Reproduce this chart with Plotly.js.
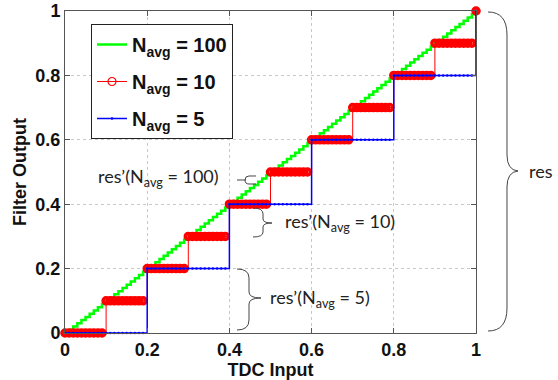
<!DOCTYPE html>
<html>
<head>
<meta charset="utf-8">
<script src="https://cdn.plot.ly/plotly-3.0.1.min.js"></script>
<style>html,body{margin:0;padding:0;background:#fff;}#chart{width:558px;height:380px;}</style>
</head>
<body>
<div id="chart"></div>
<script>
// TDC input samples
const tdcInput = [0,0.01,0.02,0.03,0.04,0.05,0.06,0.07,0.08,0.09,
0.1,0.11,0.12,0.13,0.14,0.15,0.16,0.17,0.18,0.19,
0.2,0.21,0.22,0.23,0.24,0.25,0.26,0.27,0.28,0.29,
0.3,0.31,0.32,0.33,0.34,0.35,0.36,0.37,0.38,0.39,
0.4,0.41,0.42,0.43,0.44,0.45,0.46,0.47,0.48,0.49,
0.5,0.51,0.52,0.53,0.54,0.55,0.56,0.57,0.58,0.59,
0.6,0.61,0.62,0.63,0.64,0.65,0.66,0.67,0.68,0.69,
0.7,0.71,0.72,0.73,0.74,0.75,0.76,0.77,0.78,0.79,
0.8,0.81,0.82,0.83,0.84,0.85,0.86,0.87,0.88,0.89,
0.9,0.91,0.92,0.93,0.94,0.95,0.96,0.97,0.98,0.99,1];

// Filter output, N_avg = 100
const out100 = [0,0.01,0.02,0.03,0.04,0.05,0.06,0.07,0.08,0.09,
0.1,0.11,0.12,0.13,0.14,0.15,0.16,0.17,0.18,0.19,
0.2,0.21,0.22,0.23,0.24,0.25,0.26,0.27,0.28,0.29,
0.3,0.31,0.32,0.33,0.34,0.35,0.36,0.37,0.38,0.39,
0.4,0.41,0.42,0.43,0.44,0.45,0.46,0.47,0.48,0.49,
0.5,0.51,0.52,0.53,0.54,0.55,0.56,0.57,0.58,0.59,
0.6,0.61,0.62,0.63,0.64,0.65,0.66,0.67,0.68,0.69,
0.7,0.71,0.72,0.73,0.74,0.75,0.76,0.77,0.78,0.79,
0.8,0.81,0.82,0.83,0.84,0.85,0.86,0.87,0.88,0.89,
0.9,0.91,0.92,0.93,0.94,0.95,0.96,0.97,0.98,0.99,1];

// Filter output, N_avg = 10
const out10 = [0,0,0,0,0,0,0,0,0,0,
0.1,0.1,0.1,0.1,0.1,0.1,0.1,0.1,0.1,0.1,
0.2,0.2,0.2,0.2,0.2,0.2,0.2,0.2,0.2,0.2,
0.3,0.3,0.3,0.3,0.3,0.3,0.3,0.3,0.3,0.3,
0.4,0.4,0.4,0.4,0.4,0.4,0.4,0.4,0.4,0.4,
0.5,0.5,0.5,0.5,0.5,0.5,0.5,0.5,0.5,0.5,
0.6,0.6,0.6,0.6,0.6,0.6,0.6,0.6,0.6,0.6,
0.7,0.7,0.7,0.7,0.7,0.7,0.7,0.7,0.7,0.7,
0.8,0.8,0.8,0.8,0.8,0.8,0.8,0.8,0.8,0.8,
0.9,0.9,0.9,0.9,0.9,0.9,0.9,0.9,0.9,0.9,1];

// Filter output, N_avg = 5
const out5 = [0,0,0,0,0,0,0,0,0,0,0,0,0,0,0,0,0,0,0,0,
0.2,0.2,0.2,0.2,0.2,0.2,0.2,0.2,0.2,0.2,0.2,0.2,0.2,0.2,0.2,0.2,0.2,0.2,0.2,0.2,
0.4,0.4,0.4,0.4,0.4,0.4,0.4,0.4,0.4,0.4,0.4,0.4,0.4,0.4,0.4,0.4,0.4,0.4,0.4,0.4,
0.6,0.6,0.6,0.6,0.6,0.6,0.6,0.6,0.6,0.6,0.6,0.6,0.6,0.6,0.6,0.6,0.6,0.6,0.6,0.6,
0.8,0.8,0.8,0.8,0.8,0.8,0.8,0.8,0.8,0.8,0.8,0.8,0.8,0.8,0.8,0.8,0.8,0.8,0.8,0.8,1];

const seriesNames = ['<b>N<sub>avg</sub> = 100</b>', '<b>N<sub>avg</sub> = 10</b>', '<b>N<sub>avg</sub> = 5</b>'];
const tickVals = [0, 0.2, 0.4, 0.6, 0.8, 1];
const tickText = ['0', '0.2', '0.4', '0.6', '0.8', '1'];

// pixel -> paper helpers (plot area 65..476 x, 11..333 y)
const L = 65, R = 476, T = 11, B = 333;
const px = v => (v - L) / (R - L);
const py = v => (B - v) / (B - T);

const traces = [
  {x: tdcInput, y: out100, name: seriesNames[0], legendgroup: 'g1', type: 'scatter', mode: 'lines',
   line: {color: '#00ff00', width: 2.5, shape: 'hv'}, cliponaxis: false},
  // N_avg = 10 drawn with heavy overlapping open circles
  {x: tdcInput, y: out10, name: seriesNames[1], legendgroup: 'g2', showlegend: false, type: 'scatter', mode: 'lines+markers',
   line: {color: '#ff0000', width: 1, shape: 'hv'},
   marker: {symbol: 'circle-open', size: 6, color: '#ff0000', line: {width: 3.5, color: '#ff0000'}}, cliponaxis: false},
  // legend entry only (no data)
  {x: [null], y: [null], name: seriesNames[1], legendgroup: 'g2', type: 'scatter', mode: 'lines+markers',
   line: {color: '#ff0000', width: 1},
   marker: {symbol: 'circle-open', size: 8, color: '#ff0000', line: {width: 1.2, color: '#ff0000'}}},
  {x: tdcInput, y: out5, name: seriesNames[2], legendgroup: 'g3', type: 'scatter', mode: 'lines+markers',
   line: {color: '#0000ff', width: 1.5, shape: 'hv'},
   marker: {symbol: 'circle', size: 2.5, color: '#0000ff'}, cliponaxis: false}
];

const tickFont = {family: 'Liberation Sans, Arial, sans-serif', size: 18, color: '#111', weight: 'bold'};
const annFont = {family: 'Lato, Open Sans, sans-serif', size: 18, color: '#222'};

function brace(path) {
  return {type: 'path', xref: 'paper', yref: 'paper', path: path, line: {color: '#444', width: 1}};
}
function P(x, y) { return px(x).toFixed(4) + ',' + py(y).toFixed(4); }

const shapes = [
  // big brace at right
  brace('M' + P(488, 12) + ' Q' + P(507, 12) + ' ' + P(507, 35) + ' L' + P(507, 155) +
        ' Q' + P(507, 170) + ' ' + P(518, 171) + ' Q' + P(507, 172) + ' ' + P(507, 187) +
        ' L' + P(507, 308) + ' Q' + P(507, 331) + ' ' + P(488, 331)),
  // brace for N=10
  brace('M' + P(253, 208) + ' Q' + P(263, 208) + ' ' + P(263, 214) + ' L' + P(263, 219) +
        ' Q' + P(263, 223) + ' ' + P(272, 223) + ' Q' + P(263, 223) + ' ' + P(263, 227) +
        ' L' + P(263, 232) + ' Q' + P(263, 237) + ' ' + P(253, 237)),
  // brace for N=5
  brace('M' + P(237, 269) + ' Q' + P(249, 269) + ' ' + P(249, 278) + ' L' + P(249, 292) +
        ' Q' + P(249, 298) + ' ' + P(261, 298) + ' Q' + P(249, 298) + ' ' + P(249, 304) +
        ' L' + P(249, 320) + ' Q' + P(249, 330) + ' ' + P(237, 330)),
  // small marker for N=100
  brace('M' + P(237, 180) + ' L' + P(246, 180)),
  brace('M' + P(256, 176) + ' L' + P(249, 176) + ' Q' + P(245, 176) + ' ' + P(245, 180) +
        ' Q' + P(245, 184) + ' ' + P(249, 184) + ' L' + P(256, 184))
];

const annotations = [
  {text: 'res’(N<sub>avg</sub> = 100)', xref: 'paper', yref: 'paper', x: px(96), y: py(177),
   xanchor: 'left', yanchor: 'middle', showarrow: false, font: annFont},
  {text: 'res’(N<sub>avg</sub> = 10)', xref: 'paper', yref: 'paper', x: px(283), y: py(222),
   xanchor: 'left', yanchor: 'middle', showarrow: false, font: annFont},
  {text: 'res’(N<sub>avg</sub> = 5)', xref: 'paper', yref: 'paper', x: px(268), y: py(298),
   xanchor: 'left', yanchor: 'middle', showarrow: false, font: annFont},
  {text: 'res', xref: 'paper', yref: 'paper', x: px(527), y: py(171),
   xanchor: 'left', yanchor: 'middle', showarrow: false, font: annFont}
];

const axisCommon = {
  range: [0, 1], tickvals: tickVals, ticktext: tickText, tickfont: tickFont,
  showline: true, linecolor: '#555', linewidth: 1, mirror: 'ticks',
  ticks: 'inside', ticklen: 5, tickcolor: '#555',
  showgrid: true, gridcolor: '#c8c8c8', griddash: 'dot', gridwidth: 1,
  zeroline: false, fixedrange: true
};

const layout = {
  width: 558, height: 380,
  margin: {l: L, r: 558 - R, t: T, b: 380 - B},
  paper_bgcolor: '#fff', plot_bgcolor: '#fff',
  showlegend: true,
  legend: {x: px(91), y: py(24), xanchor: 'left', yanchor: 'top',
           bgcolor: '#fff', bordercolor: '#222', borderwidth: 1,
           tracegroupgap: 8, itemwidth: 30,
           font: {family: 'Liberation Sans, Arial, sans-serif', size: 20, color: '#111'}},
  xaxis: Object.assign({}, axisCommon, {
    title: {text: '<b>TDC Input</b>', font: {family: 'Liberation Sans, Arial, sans-serif', size: 18, color: '#111'}, standoff: 0}
  }),
  yaxis: Object.assign({}, axisCommon, {
    title: {text: '<b>Filter Output</b>', font: {family: 'Liberation Sans, Arial, sans-serif', size: 18, color: '#111'}, standoff: 4}
  }),
  shapes: shapes,
  annotations: annotations
};

Plotly.newPlot('chart', traces, layout, {displayModeBar: false, staticPlot: true});
</script>
</body>
</html>
